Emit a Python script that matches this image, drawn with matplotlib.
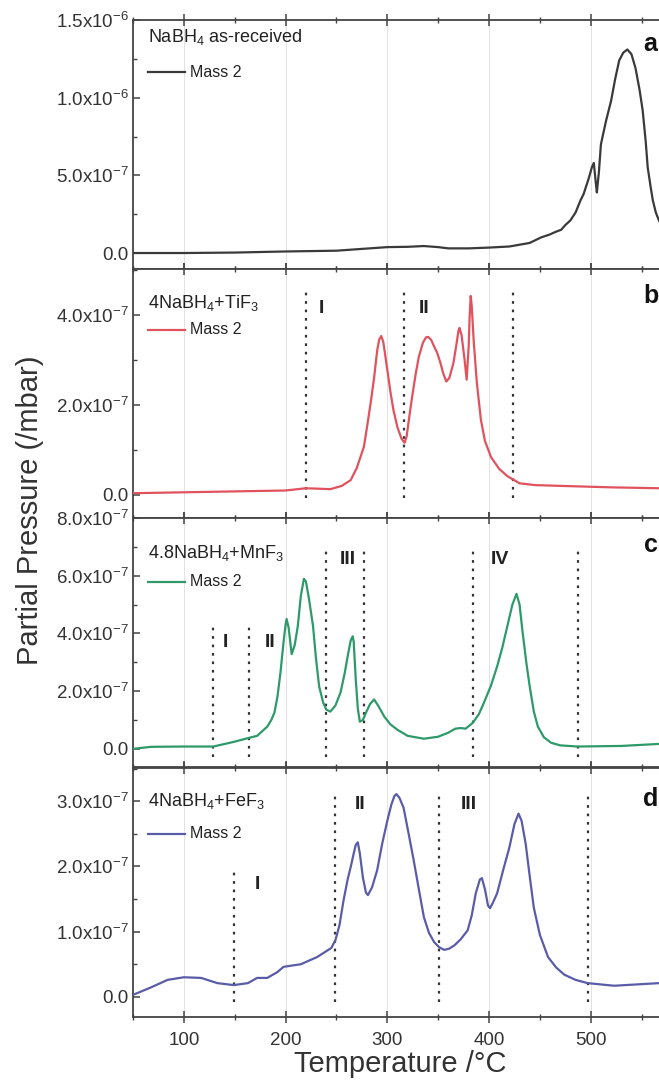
import matplotlib
matplotlib.use('Agg')
import matplotlib.pyplot as plt
import numpy as np
from matplotlib.ticker import MultipleLocator, FixedLocator

plt.rcParams['font.family'] = ['Liberation Sans', 'DejaVu Sans']
plt.rcParams['mathtext.fontset'] = 'custom'
plt.rcParams['mathtext.rm'] = 'Liberation Sans'
plt.rcParams['mathtext.it'] = 'Liberation Sans:italic'
plt.rcParams['mathtext.bf'] = 'Liberation Sans:bold'

# ---- data (temperature in degC, pressure in mbar) ----
T_a = [50, 100, 150, 200, 250, 300, 320, 336, 350, 360, 380, 400, 420, 440, 451, 460, 465,
       471, 475, 480, 485, 490, 493, 498, 501, 503, 505, 506, 508, 510, 515, 520, 524, 528,
       532, 536, 540, 544, 548, 551, 554, 556, 559, 561, 564, 567, 572, 580, 590, 600]
P_a = [0.0, 0.0, 0.03e-7, 0.1e-7, 0.15e-7, 0.38e-7, 0.4e-7, 0.45e-7, 0.38e-7, 0.3e-7, 0.3e-7,
       0.35e-7, 0.42e-7, 0.65e-7, 1.0e-7, 1.2e-7, 1.35e-7, 1.5e-7, 1.8e-7, 2.1e-7, 2.6e-7,
       3.4e-7, 3.8e-7, 4.8e-7, 5.5e-7, 5.8e-7, 4.5e-7, 3.9e-7, 5.2e-7, 7.0e-7, 8.5e-7,
       9.8e-7, 1.12e-6, 1.24e-6, 1.29e-6, 1.31e-6, 1.28e-6, 1.19e-6, 1.05e-6, 9.2e-7, 7.2e-7,
       5.5e-7, 4.2e-7, 3.4e-7, 2.6e-7, 2.1e-7, 1.5e-7, 0.9e-7, 0.6e-7, 0.5e-7]

T_b = [50, 100, 150, 200, 220, 244, 255, 264, 270, 277, 280, 284, 287, 290, 292, 294, 296,
       298, 300, 303, 306, 310, 314, 317, 319, 322, 325, 328, 331, 335, 338, 340, 343, 346,
       349, 352, 355, 358, 361, 365, 368, 370, 371, 373, 376, 378, 380, 381, 382, 383, 385,
       388, 392, 396, 402, 410, 418, 430, 445, 474, 520, 567, 600]
P_b = [0.04e-7, 0.06e-7, 0.08e-7, 0.1e-7, 0.15e-7, 0.13e-7, 0.2e-7, 0.33e-7, 0.6e-7, 1.07e-7,
       1.5e-7, 2.1e-7, 2.6e-7, 3.2e-7, 3.45e-7, 3.53e-7, 3.4e-7, 3.1e-7, 2.78e-7, 2.3e-7,
       1.89e-7, 1.5e-7, 1.25e-7, 1.16e-7, 1.3e-7, 1.8e-7, 2.27e-7, 2.7e-7, 3.07e-7, 3.38e-7,
       3.5e-7, 3.51e-7, 3.45e-7, 3.3e-7, 3.16e-7, 2.95e-7, 2.7e-7, 2.52e-7, 2.6e-7, 2.93e-7,
       3.35e-7, 3.65e-7, 3.71e-7, 3.55e-7, 3.0e-7, 2.56e-7, 3.3e-7, 4.0e-7, 4.42e-7, 4.2e-7,
       3.4e-7, 2.5e-7, 1.67e-7, 1.2e-7, 0.84e-7, 0.58e-7, 0.42e-7, 0.26e-7, 0.22e-7, 0.2e-7,
       0.17e-7, 0.15e-7, 0.15e-7]

T_c = [50, 68, 100, 129, 149, 164, 172, 182, 186, 189, 192, 195, 198, 200, 201, 203, 206,
       209, 212, 215, 218, 220, 223, 227, 230, 233, 237, 240, 244, 249, 254, 258, 261, 264,
       266, 267, 269, 271, 273, 276, 279, 283, 287, 291, 297, 303, 310, 320, 336, 350, 360,
       367, 372, 377, 384, 390, 395, 402, 408, 413, 418, 423, 427, 430, 433, 437, 440, 444,
       448, 454, 461, 470, 487, 530, 567, 600]
P_c = [0.0, 0.07e-7, 0.08e-7, 0.08e-7, 0.24e-7, 0.38e-7, 0.45e-7, 0.77e-7, 1.0e-7, 1.25e-7,
       1.8e-7, 2.65e-7, 3.7e-7, 4.3e-7, 4.5e-7, 4.2e-7, 3.28e-7, 3.6e-7, 4.25e-7, 5.3e-7,
       5.89e-7, 5.8e-7, 5.2e-7, 4.25e-7, 3.1e-7, 2.16e-7, 1.6e-7, 1.36e-7, 1.29e-7, 1.5e-7,
       1.95e-7, 2.6e-7, 3.2e-7, 3.75e-7, 3.9e-7, 3.7e-7, 2.4e-7, 1.4e-7, 0.94e-7, 1.0e-7,
       1.25e-7, 1.55e-7, 1.71e-7, 1.5e-7, 1.12e-7, 0.85e-7, 0.66e-7, 0.45e-7, 0.35e-7,
       0.42e-7, 0.56e-7, 0.7e-7, 0.72e-7, 0.7e-7, 0.9e-7, 1.2e-7, 1.6e-7, 2.2e-7, 2.86e-7,
       3.5e-7, 4.25e-7, 5.0e-7, 5.37e-7, 5.0e-7, 4.04e-7, 2.9e-7, 2.16e-7, 1.3e-7, 0.77e-7,
       0.4e-7, 0.21e-7, 0.12e-7, 0.08e-7, 0.1e-7, 0.17e-7, 0.18e-7]

T_d = [50, 67, 84, 100, 117, 133, 149, 163, 172, 182, 192, 198, 215, 231, 245, 249, 253,
       257, 261, 264, 267, 269, 271, 273, 276, 279, 281, 285, 290, 295, 300, 304, 307, 309,
       312, 316, 321, 326, 331, 336, 341, 346, 351, 356, 361, 366, 372, 379, 383, 387, 391,
       393, 396, 399, 401, 404, 408, 414, 420, 425, 429, 432, 436, 440, 444, 450, 458, 466,
       474, 485, 497, 523, 567, 600]
P_d = [0.03e-7, 0.14e-7, 0.26e-7, 0.3e-7, 0.29e-7, 0.21e-7, 0.18e-7, 0.21e-7, 0.29e-7,
       0.29e-7, 0.38e-7, 0.46e-7, 0.5e-7, 0.61e-7, 0.75e-7, 0.87e-7, 1.1e-7, 1.48e-7, 1.8e-7,
       1.99e-7, 2.2e-7, 2.33e-7, 2.37e-7, 2.2e-7, 1.83e-7, 1.6e-7, 1.56e-7, 1.68e-7, 1.94e-7,
       2.35e-7, 2.7e-7, 2.95e-7, 3.08e-7, 3.11e-7, 3.05e-7, 2.9e-7, 2.5e-7, 2.09e-7, 1.65e-7,
       1.22e-7, 0.98e-7, 0.84e-7, 0.76e-7, 0.72e-7, 0.74e-7, 0.79e-7, 0.88e-7, 1.02e-7,
       1.25e-7, 1.59e-7, 1.8e-7, 1.82e-7, 1.65e-7, 1.4e-7, 1.36e-7, 1.45e-7, 1.59e-7,
       1.95e-7, 2.29e-7, 2.65e-7, 2.81e-7, 2.7e-7, 2.35e-7, 1.85e-7, 1.37e-7, 0.95e-7,
       0.61e-7, 0.45e-7, 0.34e-7, 0.26e-7, 0.21e-7, 0.17e-7, 0.21e-7, 0.23e-7]

titles = [r'NaBH$_4$ as-received', r'4NaBH$_4$+TiF$_3$',
          r'4.8NaBH$_4$+MnF$_3$', r'4NaBH$_4$+FeF$_3$']
panel_letters = ['a', 'b', 'c', 'd']
colors = ['#3a3a3a', '#e0525e', '#2e9a6a', '#5a5ca8']

# dotted guides: (temperature, ymin, ymax) per panel
guides_b = [(220, -0.07e-7, 4.6e-7), (316, -0.07e-7, 4.6e-7), (424, -0.07e-7, 4.6e-7)]
guides_c = [(129, -0.28e-7, 4.33e-7), (164, -0.28e-7, 4.33e-7), (240, -0.28e-7, 7.0e-7),
            (277, -0.28e-7, 7.0e-7), (384, -0.28e-7, 7.0e-7), (487, -0.28e-7, 7.0e-7)]
guides_d = [(149, -0.08e-7, 1.94e-7), (249, -0.08e-7, 3.16e-7), (351, -0.08e-7, 3.16e-7),
            (497, -0.08e-7, 3.16e-7)]
# stage labels: (text, temperature, pressure)
stages_b = [('I', 233, 4.15e-7), ('II', 331, 4.15e-7)]
stages_c = [('I', 138, 3.7e-7), ('II', 180, 3.7e-7), ('III', 253, 6.55e-7), ('IV', 402, 6.55e-7)]
stages_d = [('I', 170, 1.72e-7), ('II', 268, 2.95e-7), ('III', 372, 2.95e-7)]

ylims = [(-1.03e-7, 1.5e-6), (-0.51e-7, 5.02e-7), (-0.63e-7, 8.0e-7), (-0.31e-7, 3.51e-7)]
yticks = [[0, 5e-7, 1e-6, 1.5e-6], [0, 2e-7, 4e-7], [0, 2e-7, 4e-7, 6e-7, 8e-7], [0, 1e-7, 2e-7, 3e-7]]
yminor = [2.5e-7, 1e-7, 1e-7, 0.5e-7]
xticks = [100, 200, 300, 400, 500]
xminor = [50, 150, 250, 350, 450, 550]
# label and legend heights inside each panel (axes fraction)
title_y = [0.932, 0.863, 0.859, 0.867]
legend_y = [0.791, 0.755, 0.743, 0.735]
letter_y = [0.905, 0.89, 0.89, 0.875]


def tick_text(v):
    if v == 0:
        return '0.0'
    exp = int(np.floor(np.log10(abs(v)) + 1e-9))
    mant = v / 10 ** exp
    return r'%.1fx10$^{%d}$' % (mant, exp)


fig = plt.figure(figsize=(6.59, 10.8), dpi=100)
bottoms = [0.7509, 0.5204, 0.2898, 0.0583]
height = 0.2306
left, width = 0.2018, 0.849

curves = [(T_a, P_a), (T_b, P_b), (T_c, P_c), (T_d, P_d)]
guides = [[], guides_b, guides_c, guides_d]
stages = [[], stages_b, stages_c, stages_d]

for i in range(4):
    ax = fig.add_axes([left, bottoms[i], width, height])
    ax.set_xlim(50, 600)
    ax.set_ylim(*ylims[i])
    for xg in xticks:
        ax.axvline(xg, color='#e2e2e2', lw=0.7, zorder=0)

    T, P = curves[i]
    ax.plot(T, P, color=colors[i], lw=1.6, zorder=3, solid_joinstyle='round')

    for xg, y0, y1 in guides[i]:
        ax.plot([xg, xg], [y0, y1], color='#333333', lw=1.6, ls=(0, (1.2, 2.6)), zorder=2)
    for s, xs, ys in stages[i]:
        ax.text(xs, ys, s, fontsize=14, fontweight='bold', color='#222222',
                ha='left', va='center')

    ax.text(0.027, title_y[i], titles[i], transform=ax.transAxes, fontsize=13,
            color='#222222', va='center', ha='left')
    ax.plot([0.027, 0.093], [legend_y[i], legend_y[i]], transform=ax.transAxes,
            color=colors[i], lw=1.6)
    ax.text(0.102, legend_y[i], 'Mass 2', transform=ax.transAxes, fontsize=11.5,
            color='#222222', va='center', ha='left')
    ax.text(0.925, letter_y[i], panel_letters[i], transform=ax.transAxes, fontsize=18,
            fontweight='bold', color='#111111', va='center', ha='center')

    ax.yaxis.set_major_locator(FixedLocator(yticks[i]))
    ax.set_yticklabels([tick_text(v) for v in yticks[i]])
    ax.yaxis.set_minor_locator(MultipleLocator(yminor[i]))
    ax.xaxis.set_major_locator(FixedLocator(xticks))
    ax.xaxis.set_minor_locator(FixedLocator(xminor))
    ax.tick_params(axis='y', which='major', direction='in', length=5, width=1.1,
                   labelsize=13.5, colors='#444444', labelcolor='#333333', pad=3)
    ax.tick_params(axis='y', which='minor', direction='in', length=3, width=1.0, colors='#444444')
    ax.tick_params(axis='x', which='major', direction='inout', length=9, width=1.1,
                   top=True, bottom=True, labelsize=13.5, colors='#444444',
                   labelcolor='#333333', pad=6)
    ax.tick_params(axis='x', which='minor', direction='inout', length=5, width=1.0,
                   top=True, bottom=True, colors='#444444')
    if i < 3:
        ax.tick_params(axis='x', labelbottom=False)
    for sp in ax.spines.values():
        sp.set_color('#444444')
        sp.set_linewidth(1.3)

fig.text(400 / 659, 1 - 1064 / 1080, 'Temperature /\u00b0C', fontsize=21, color='#333333',
         ha='center', va='center')
fig.text(30 / 659, 1 - 510 / 1080, 'Partial Pressure (/mbar)', fontsize=21, color='#333333',
         ha='center', va='center', rotation=90)

fig.savefig('out.png', dpi=100)
